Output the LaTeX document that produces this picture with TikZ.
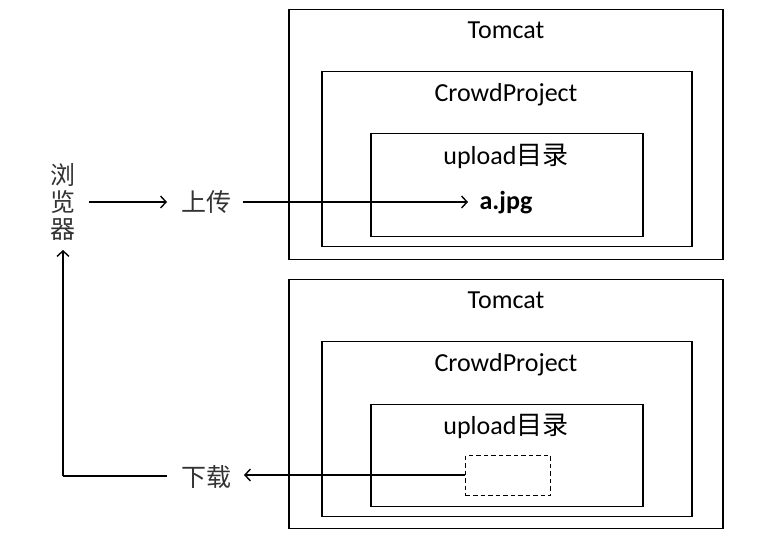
\documentclass[tikz,border=0pt]{standalone}
\usepackage{fontspec}
\setmainfont{Carlito}
\newfontfamily\cjk{Noto Sans CJK SC}
\usetikzlibrary{arrows.meta}
\begin{document}
\begin{tikzpicture}[x=1pt,y=-1pt,
  box/.style={draw, line width=1.5pt, inner sep=0pt, anchor=north west},
  dbox/.style={draw, line width=1.4pt, dash pattern=on 4.5pt off 3pt, inner sep=0pt, anchor=north west},
  lbl/.style={font=\fontsize{26}{30}\selectfont, inner sep=0pt, anchor=base},
  zh/.style={font=\fontsize{25}{27}\selectfont\cjk, inner sep=0pt, text=black!80},
  arr/.style={-{Straight Barb[length=5.5pt,width=12pt,line width=1.4pt]}, line width=1.4pt},
  ln/.style={line width=1.4pt}]
\useasboundingbox (0,0) rectangle (772,537);
% top group
\node[box, minimum width=434pt, minimum height=250pt] (tomcatA) at (288,9) {};
\node[box, minimum width=370pt, minimum height=175pt] (crowdA) at (321,71) {};
\node[box, minimum width=272pt, minimum height=103pt] (uploadA) at (370,133) {};
\node[lbl] (tA) at (506,39) {Tomcat};
\node[lbl] (cA) at (506,102) {CrowdProject};
\node[lbl] (uA) at (506,165) {upload{\cjk 目录}};
\node[lbl, font=\fontsize{26}{30}\selectfont\bfseries] (jpg) at (506,210) {a.jpg};
% bottom group
\node[box, minimum width=434pt, minimum height=249pt] (tomcatB) at (288,279) {};
\node[box, minimum width=370pt, minimum height=175pt] (crowdB) at (321,341) {};
\node[box, minimum width=272pt, minimum height=102pt] (uploadB) at (370,404) {};
\node[lbl] (tB) at (506,309) {Tomcat};
\node[lbl] (cB) at (506,372) {CrowdProject};
\node[lbl] (uB) at (506,435) {upload{\cjk 目录}};
\node[dbox, minimum width=85pt, minimum height=40pt] (file) at (465,455) {};
% browser and actions
\node[zh, align=center] (browser) at (63,202) {浏\\览\\器};
\node[zh] (up) at (206,202) {上传};
\node[zh] (down) at (206,477) {下载};
\coordinate (corner) at (63,476);
\coordinate (cornerR) at (167,476);
\coordinate (upL) at (89,202);
\coordinate (upR) at (167,202);
\coordinate (upS) at (243,202);
\coordinate (jpgL) at (468,202);
\coordinate (fileL) at (465,475);
\coordinate (downR) at (244,475);
\coordinate (browserB) at (63,250);
% connectors
\draw[arr] (upL) -- (upR);
\draw[arr] (upS) -- (jpgL);
\draw[ln] (cornerR) -- (corner);
\draw[arr] (corner) -- (browserB);
\draw[arr] (fileL) -- (downR);
\end{tikzpicture}
\end{document}
